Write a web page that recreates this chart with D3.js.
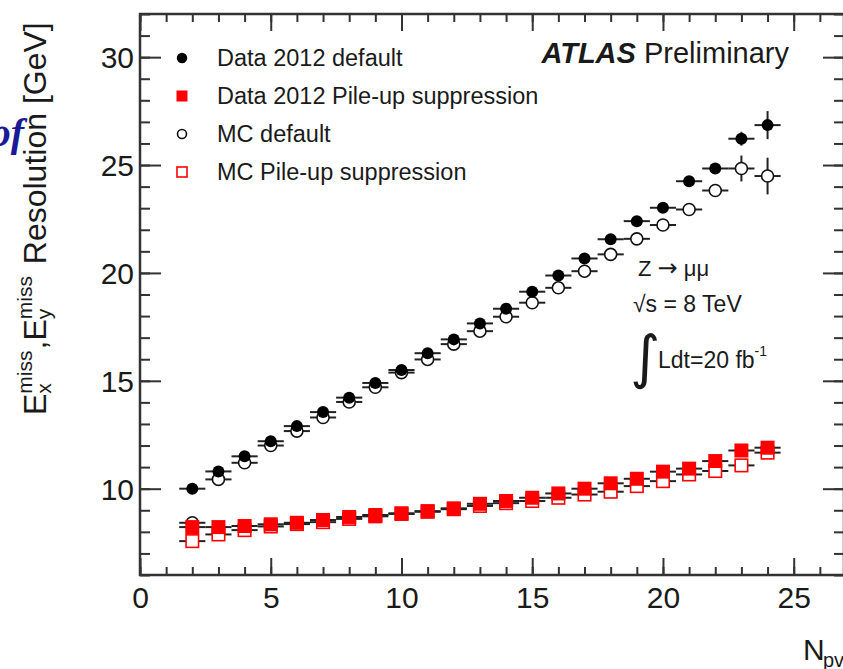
<!DOCTYPE html>
<html>
<head>
<meta charset="utf-8">
<script src="https://cdn.jsdelivr.net/npm/d3@7"></script>
<style>
  body { margin: 0; background: #fff; }
  svg { display: block; font-family: "Liberation Sans", Arial, sans-serif; }
  text { white-space: pre; }
</style>
</head>
<body>
<div id="chart"></div>
<script>
// number of primary vertices (bin centres)
const nPV = [2, 3, 4, 5, 6, 7, 8, 9, 10, 11, 12, 13, 14, 15, 16, 17, 18, 19, 20, 21, 22, 23, 24]

// resolution values [GeV]
const dataDefault = [10.0, 10.8, 11.5, 12.2, 12.9, 13.55, 14.22, 14.9, 15.5, 16.28, 16.92, 17.66, 18.34, 19.13, 19.88, 20.67, 21.56, 22.4, 23.02, 24.25, 24.84, 26.22, 26.85]
const dataDefaultErr = [0.05, 0.05, 0.05, 0.05, 0.05, 0.05, 0.05, 0.05, 0.05, 0.05, 0.05, 0.05, 0.05, 0.05, 0.06, 0.07, 0.08, 0.1, 0.12, 0.15, 0.2, 0.32, 0.65]

const mcDefault = [8.42, 10.43, 11.2, 12.0, 12.67, 13.3, 14.02, 14.7, 15.38, 15.99, 16.7, 17.3, 17.97, 18.62, 19.31, 20.08, 20.86, 21.58, 22.22, 22.94, 23.82, 24.84, 24.49]
const mcDefaultErr = [0.05, 0.05, 0.05, 0.05, 0.05, 0.05, 0.05, 0.05, 0.05, 0.05, 0.05, 0.05, 0.05, 0.06, 0.07, 0.08, 0.09, 0.1, 0.12, 0.15, 0.25, 0.6, 0.85]

const dataPU = [8.22, 8.22, 8.27, 8.35, 8.42, 8.55, 8.69, 8.78, 8.86, 8.96, 9.09, 9.3, 9.43, 9.58, 9.78, 10.0, 10.25, 10.46, 10.79, 10.93, 11.28, 11.77, 11.9]
const dataPUErr = [0.04, 0.04, 0.04, 0.04, 0.04, 0.04, 0.04, 0.04, 0.04, 0.04, 0.04, 0.04, 0.04, 0.04, 0.04, 0.05, 0.05, 0.06, 0.07, 0.08, 0.1, 0.12, 0.2]

const mcPU = [7.57, 7.88, 8.08, 8.25, 8.36, 8.45, 8.6, 8.72, 8.83, 8.93, 9.05, 9.2, 9.33, 9.43, 9.58, 9.73, 9.86, 10.12, 10.35, 10.66, 10.82, 11.08, 11.67]
const mcPUErr = [0.04, 0.04, 0.04, 0.04, 0.04, 0.04, 0.04, 0.04, 0.04, 0.04, 0.04, 0.04, 0.04, 0.04, 0.04, 0.05, 0.05, 0.06, 0.07, 0.08, 0.1, 0.14, 0.25]

const legendLabels = ["Data 2012 default", "Data 2012 Pile-up suppression", "MC default", "MC Pile-up suppression"]
const xTickLabels = ["0", "5", "10", "15", "20", "25"]
const yTickLabels = ["10", "15", "20", "25", "30"]

const width = 843
const height = 669
const ink = '#1a1a1a'

const xScale = d3.scaleLinear().domain([0, 27]).range([140, 846])
const yScale = d3.scaleLinear().domain([6, 32]).range([575, 14])

const svg = d3.select('#chart').append('svg').attr('width', width).attr('height', height)

// stray slide text at the far left
svg.append('text')
    .attr('x', 24).attr('y', 146)
    .attr('text-anchor', 'end')
    .attr('font-family', '"Liberation Serif", serif')
    .attr('font-style', 'italic').attr('font-weight', 'bold')
    .attr('font-size', 40)
    .attr('fill', '#1a1a96')
    .text('of')

// axes: ticks point inwards, mirrored on top and right
const x0 = xScale.range()[0]
const y0 = yScale.range()[0]
const yTop = yScale.range()[1]
const xRight = 844

function styleAxis(g) {
    g.select('.domain').remove()
    g.selectAll('line').attr('stroke', '#333').attr('stroke-width', 2)
    g.selectAll('text').attr('fill', ink).attr('font-family', '"Liberation Sans", Arial, sans-serif')
}

const xMajor = xTickLabels.map(Number)
const yMajor = yTickLabels.map(Number)

svg.append('g').attr('transform', 'translate(0,' + y0 + ')')
    .call(d3.axisBottom(xScale).tickValues(d3.range(0, 28)).tickSize(-8).tickFormat(''))
    .call(styleAxis)
svg.append('g').attr('transform', 'translate(0,' + y0 + ')')
    .call(d3.axisBottom(xScale).tickValues(xMajor).tickSize(-17).tickPadding(7).tickFormat(function(d, i) { return xTickLabels[i] }))
    .call(styleAxis)
    .call(function(g) { g.selectAll('text').attr('font-size', 30).attr('dy', '0.85em') })

svg.append('g').attr('transform', 'translate(0,' + yTop + ')')
    .call(d3.axisTop(xScale).tickValues(d3.range(0, 28)).tickSize(-8).tickFormat(''))
    .call(styleAxis)
svg.append('g').attr('transform', 'translate(0,' + yTop + ')')
    .call(d3.axisTop(xScale).tickValues(xMajor).tickSize(-17).tickFormat(''))
    .call(styleAxis)

svg.append('g').attr('transform', 'translate(' + x0 + ',0)')
    .call(d3.axisLeft(yScale).tickValues(d3.range(6, 33)).tickSize(-10).tickFormat(''))
    .call(styleAxis)
svg.append('g').attr('transform', 'translate(' + x0 + ',0)')
    .call(d3.axisLeft(yScale).tickValues(yMajor).tickSize(-21).tickPadding(6).tickFormat(function(d, i) { return yTickLabels[i] }))
    .call(styleAxis)
    .call(function(g) { g.selectAll('text').attr('font-size', 30).attr('dy', '0.36em') })

svg.append('g').attr('transform', 'translate(' + xRight + ',0)')
    .call(d3.axisRight(yScale).tickValues(d3.range(6, 33)).tickSize(-10).tickFormat(''))
    .call(styleAxis)
svg.append('g').attr('transform', 'translate(' + xRight + ',0)')
    .call(d3.axisRight(yScale).tickValues(yMajor).tickSize(-21).tickFormat(''))
    .call(styleAxis)

svg.append('rect')
    .attr('x', x0).attr('y', yTop)
    .attr('width', xRight - x0).attr('height', y0 - yTop)
    .attr('fill', 'none').attr('stroke', '#333').attr('stroke-width', 2.5)

// series
const series = [
    { values: mcDefault, errs: mcDefaultErr, shape: 'circle', fill: '#fff', stroke: '#111' },
    { values: mcPU, errs: mcPUErr, shape: 'square', fill: '#fff', stroke: '#f00' },
    { values: dataDefault, errs: dataDefaultErr, shape: 'circle', fill: '#000', stroke: '#000' },
    { values: dataPU, errs: dataPUErr, shape: 'square', fill: '#f00', stroke: '#f00' }
]

function drawMarker(g, shape, cx, cy, size, fill, stroke) {
    if (shape === 'circle') {
        g.append('circle').attr('cx', cx).attr('cy', cy).attr('r', size / 2)
            .attr('fill', fill).attr('stroke', stroke).attr('stroke-width', fill === '#fff' ? 1.6 : 0)
    } else {
        g.append('rect').attr('x', cx - size / 2).attr('y', cy - size / 2)
            .attr('width', size).attr('height', size)
            .attr('fill', fill).attr('stroke', stroke).attr('stroke-width', fill === '#fff' ? 1.6 : 0)
    }
}

const plot = svg.append('g')

series.forEach(function(s) {
    const g = plot.append('g')
    nPV.forEach(function(n, i) {
        const v = s.values[i]
        const e = s.errs[i]
        g.append('line')
            .attr('x1', xScale(n - 0.5)).attr('x2', xScale(n + 0.5))
            .attr('y1', yScale(v)).attr('y2', yScale(v))
            .attr('stroke', '#222').attr('stroke-width', 2)
        g.append('line')
            .attr('x1', xScale(n)).attr('x2', xScale(n))
            .attr('y1', yScale(v - e)).attr('y2', yScale(v + e))
            .attr('stroke', '#222').attr('stroke-width', 2)
    })
    nPV.forEach(function(n, i) {
        const size = s.shape === 'circle' ? 12 : (s.fill === '#fff' ? 12.5 : 14)
        drawMarker(g, s.shape, xScale(n), yScale(s.values[i]), size, s.fill, s.stroke)
    })
})

// legend
const legendY = [58, 96, 134, 172]
const legendSeries = [series[2], series[3], series[0], series[1]]
const legend = svg.append('g')
legendLabels.forEach(function(label, i) {
    const s = legendSeries[i]
    const size = s.shape === 'circle' ? (s.fill === '#fff' ? 9 : 10.5) : (s.fill === '#fff' ? 10 : 11)
    drawMarker(legend, s.shape, 182, legendY[i], size, s.fill, s.stroke)
    legend.append('text')
        .attr('x', 217).attr('y', legendY[i] + 8)
        .attr('font-size', 23.5).attr('fill', ink)
        .text(label)
})

// ATLAS label
const atlas = svg.append('text')
    .attr('x', 789).attr('y', 63)
    .attr('text-anchor', 'end')
    .attr('font-size', 29).attr('fill', ink)
atlas.append('tspan').attr('font-weight', 'bold').attr('font-style', 'italic').text('ATLAS')
atlas.append('tspan').text(' Preliminary')

// annotation
const zLine = svg.append('text').attr('x', 638).attr('y', 276).attr('font-size', 22).attr('fill', ink)
zLine.append('tspan').text('Z ')
zLine.append('tspan').attr('font-family', '"DejaVu Sans", sans-serif').attr('font-size', 24).text('\u2192')
zLine.append('tspan').text(' \u03bc\u03bc')
svg.append('text').attr('x', 633).attr('y', 312).attr('font-size', 23).attr('fill', ink)
    .text('\u221as = 8 TeV')
svg.append('text').attr('x', 630).attr('y', 377)
    .attr('font-family', '"DejaVu Sans", sans-serif')
    .attr('font-size', 58).attr('fill', ink)
    .text('\u222b')
const lumi = svg.append('text').attr('x', 658).attr('y', 368).attr('font-size', 23).attr('fill', ink)
lumi.append('tspan').text('Ldt=20 fb')
lumi.append('tspan').attr('font-size', 14).attr('dy', -12).text('-1')

// axis titles
const yTitle = svg.append('g').attr('transform', 'translate(46,415) rotate(-90)')
let cursor = 0
function piece(txt, fs, dy, advance) {
    const t = yTitle.append('text')
        .attr('x', cursor).attr('y', dy)
        .attr('font-size', fs).attr('fill', ink)
        .text(txt)
    const w = t.node().getComputedTextLength()
    if (advance) cursor += w
    return w
}
piece('E', 32, 0, true)
let sub = piece('x', 21, 5, false)
let sup = piece('miss', 21, -14, false)
cursor += Math.max(sub, sup) + 1
piece(',', 32, 0, true)
piece('E', 32, 0, true)
sub = piece('y', 21, 5, false)
sup = piece('miss', 21, -14, false)
cursor += Math.max(sub, sup) + 3
piece('\u00a0Resolution [GeV]', 32, 0, true)

svg.append('text').attr('x', 803).attr('y', 660).attr('font-size', 30).attr('fill', ink).text('N')
svg.append('text').attr('x', 823).attr('y', 667).attr('font-size', 20).attr('fill', ink).text('pv')
</script>
</body>
</html>
